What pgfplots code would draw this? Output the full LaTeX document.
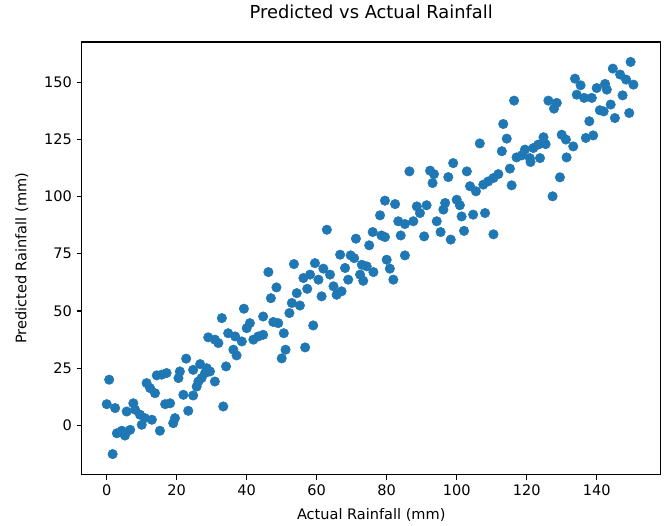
\documentclass[border=0pt]{standalone}
\usepackage{fontspec}
\setmainfont{DejaVu Sans}
\usepackage{pgfplots}
\pgfplotsset{compat=1.18}
\usetikzlibrary{calc}
\definecolor{tabblue}{HTML}{1F77B4}

\pgfplotstableread{
x y
46.2 67.0
48.5 60.3
46.9 55.6
39.2 51.0
32.9 46.9
44.7 47.6
40.9 44.7
40.0 42.5
47.6 45.2
49.0 44.7
52.2 49.1
50.6 40.3
29.0 38.5
30.9 37.5
31.9 36.0
34.7 40.3
36.7 38.9
38.6 36.7
36.2 33.1
37.1 30.6
41.9 37.5
43.3 38.9
44.7 39.6
51.1 33.1
50.0 29.3
34.1 25.8
22.7 29.2
26.7 26.8
28.6 25.0
24.7 24.3
20.9 23.6
20.5 20.7
15.7 22.2
14.3 21.9
17.1 22.9
11.4 18.5
12.4 16.3
13.8 14.1
26.2 19.2
27.1 20.7
28.1 22.9
29.5 23.6
30.9 19.2
25.7 17.0
33.3 8.3
21.9 13.4
24.7 13.1
23.3 6.4
18.1 9.7
16.7 9.3
19.5 3.2
19.0 1.0
15.2 -2.3
7.6 9.7
8.1 6.9
5.7 6.1
9.5 4.7
10.9 3.2
12.9 2.5
10.0 0.3
0.7 20.0
0.0 9.3
2.4 7.6
2.9 -3.4
4.3 -2.3
5.2 -4.4
6.7 -1.9
1.7 -12.5
62.9 85.5
71.2 81.6
75.0 78.7
76.0 84.5
78.5 83.0
79.5 82.3
84.0 83.0
90.7 82.6
95.4 84.5
98.3 81.2
102.1 85.0
66.7 74.6
69.7 74.3
70.7 73.1
80.0 72.4
85.2 74.3
53.5 70.5
59.5 70.9
61.9 68.5
63.8 65.9
68.1 68.8
72.9 70.2
74.3 69.5
80.9 68.5
76.2 67.0
72.4 65.9
73.3 63.2
69.0 63.7
81.9 63.7
56.2 64.4
58.1 65.9
60.5 63.7
64.8 60.8
67.1 58.6
65.7 57.1
57.3 59.7
54.3 57.8
61.4 56.4
52.9 53.5
55.2 52.4
59.0 43.7
56.7 34.1
99.0 114.6
86.5 111.0
92.4 111.3
93.5 109.8
93.1 105.9
97.6 108.5
102.9 111.0
103.8 104.5
105.5 102.3
79.5 98.2
82.4 96.7
78.1 91.8
88.6 95.7
91.4 96.2
89.5 92.8
96.7 97.2
100.0 98.6
100.9 96.2
96.2 94.3
104.7 92.1
101.4 91.3
83.3 89.2
85.2 88.0
87.6 89.2
94.3 89.2
149.7 158.8
144.6 155.9
146.7 153.3
148.4 151.1
150.5 148.9
133.8 151.5
135.4 148.6
134.3 144.5
136.4 143.1
138.6 143.1
140.0 147.4
142.4 149.2
142.9 146.7
147.4 144.2
144.0 140.2
140.9 137.7
142.0 137.2
145.2 134.3
149.3 136.5
137.9 132.9
136.9 125.6
139.0 126.7
116.4 141.9
126.2 141.9
128.6 140.9
127.8 138.4
113.3 131.7
114.3 125.3
106.6 123.2
112.9 119.8
124.8 125.9
125.4 122.9
130.0 127.0
131.2 124.9
133.3 121.9
131.4 117.1
123.3 122.7
121.9 121.2
119.5 120.5
118.6 118.0
117.1 117.1
120.9 116.8
121.1 115.1
123.8 116.8
115.2 112.2
115.7 104.9
111.9 109.8
110.5 108.1
109.0 106.6
107.6 105.2
129.5 108.4
127.4 100.1
108.1 92.8
110.5 83.5
}\rainfall

\begin{document}
\begin{tikzpicture}
\begin{axis}[
    scale only axis,
    width=434.25pt, height=324.5pt,
    xmin=-7.14, xmax=158.3,
    ymin=-21.5, ymax=167.5,
    xtick={0,20,...,140},
    ytick={0,25,...,150},
    tick align=outside,
    tick pos=left,
    major tick length=3.8pt,
    every tick/.style={black, line width=0.85pt},
    axis line style={black, line width=0.85pt},
    /pgf/number format/assume math mode=true,
    ticklabel style={font=\fontsize{10.9}{13}\selectfont},
    title={Predicted vs Actual Rainfall},
    title style={font=\fontsize{13.4}{15}\selectfont, at={(axis description cs:0.5,1.0524)}, anchor=center},
    xlabel={Actual Rainfall (mm)},
    xlabel style={font=\fontsize{10.9}{13}\selectfont, at={(axis description cs:0.5,-0.0924)}, anchor=center},
    ylabel={Predicted Rainfall (mm)},
    ylabel style={font=\fontsize{10.9}{13}\selectfont, at={(axis description cs:-0.1036,0.5)}, anchor=center},
    clip=false,
]
\addplot[only marks, mark=*, mark size=3.55pt, draw=tabblue, fill=tabblue,
    mark options={draw=tabblue, fill=tabblue}] table[x=x, y=y] {\rainfall};
\end{axis}
\path ($(current axis.south west)+(-61.3pt,-37.3pt)$) rectangle ($(current axis.north east)+(6.2pt,30.5pt)$);
\end{tikzpicture}
\end{document}
